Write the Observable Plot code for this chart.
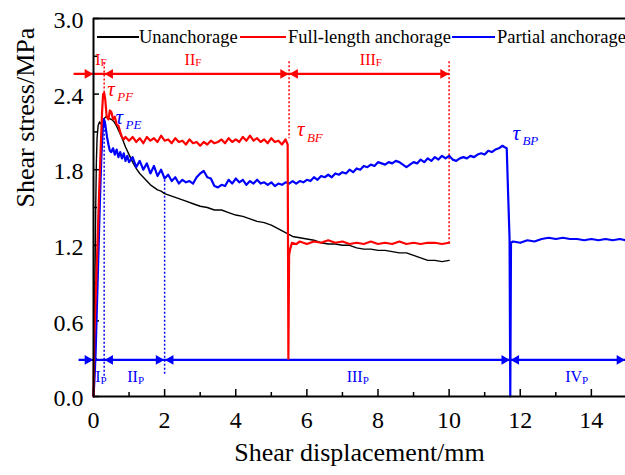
<!DOCTYPE html>
<html><head><meta charset="utf-8">
<script src="https://cdn.jsdelivr.net/npm/d3@7"></script>
<script src="https://cdn.jsdelivr.net/npm/@observablehq/plot@0.6"></script>
<style>
body{margin:0;background:#fff;}
#wrap{position:relative;width:625px;height:475px;font-family:"Liberation Serif","Times New Roman",serif;}
#legend{position:absolute;left:0;top:26px;width:625px;height:22px;font-size:18.5px;line-height:22px;color:#000;white-space:nowrap;}
#legend .sw{position:absolute;top:10px;height:2px;}
#legend .lt{position:absolute;top:0;}
</style></head><body><div id="wrap"><div id="legend"></div></div>
<script>
// Axis ticks
const xMajor = [0, 2, 4, 6, 8, 10, 12, 14];
const xMinor = [1, 3, 5, 7, 9, 11, 13];
const yMajor = [0, 0.6, 1.2, 1.8, 2.4, 3.0];
const yMinor = [0.3, 0.9, 1.5, 2.1, 2.7];

const seriesNames = ["Unanchorage", "Full-length anchorage", "Partial anchorage"];
const seriesColors = ["#000000", "#ff0000", "#0000ff"];

// Unanchorage (black)
const unanchorage = [[0,0],[0.02,0.35],[0.04,0.9],[0.06,1.45],[0.08,1.85],[0.1,2.05],[0.13,2.15],[0.17,2.18],[0.22,2.16],[0.28,2.2],[0.35,2.22],[0.42,2.21],[0.5,2.2],[0.58,2.18],[0.66,2.14],[0.74,2.09],[0.82,2.04],[0.9,1.98],[1.0,1.92],[1.1,1.86],[1.2,1.81],[1.3,1.77],[1.4,1.74],[1.5,1.71],[1.6,1.68],[1.7,1.66],[1.8,1.64],[1.9,1.63],[2.0,1.61],[2.2,1.59],[2.4,1.57],[2.6,1.55],[2.8,1.53],[3.0,1.51],[3.2,1.5],[3.4,1.48],[3.6,1.48],[3.8,1.46],[4.0,1.44],[4.2,1.43],[4.4,1.41],[4.6,1.39],[4.8,1.38],[5.0,1.36],[5.2,1.33],[5.4,1.3],[5.6,1.27],[5.8,1.26],[6.0,1.25],[6.2,1.24],[6.4,1.22],[6.6,1.21],[6.8,1.21],[7.0,1.2],[7.2,1.2],[7.4,1.18],[7.6,1.17],[7.8,1.17],[8.0,1.16],[8.2,1.16],[8.4,1.15],[8.6,1.14],[8.8,1.14],[9.0,1.12],[9.2,1.1],[9.4,1.08],[9.6,1.08],[9.8,1.07],[10.0,1.08]];

// Full-length anchorage (red)
const fullLength = [[0,0],[0.02,0.45],[0.05,0.7],[0.1,1.1],[0.15,1.55],[0.2,1.95],[0.24,2.25],[0.27,2.4],[0.3,2.41],[0.33,2.36],[0.37,2.22],[0.42,2.2],[0.46,2.27],[0.5,2.26],[0.55,2.2],[0.6,2.22],[0.65,2.16],[0.7,2.15],[0.75,2.1],[0.8,2.06],[0.85,2.04],[0.9,2.06],[1.0,2.03],[1.1,2.06],[1.2,2.02],[1.3,2.05],[1.4,2.01],[1.5,2.06],[1.6,2.03],[1.7,2.05],[1.8,2.02],[1.9,2.07],[2.0,2.03],[2.1,2.04],[2.2,2.01],[2.3,2.05],[2.4,2.02],[2.5,2.03],[2.6,2.0],[2.7,2.04],[2.8,2.01],[2.9,2.02],[3.0,1.99],[3.1,2.02],[3.2,2.0],[3.3,2.03],[3.4,2.01],[3.5,2.02],[3.6,2.04],[3.7,2.01],[3.8,2.05],[3.9,2.02],[4.0,2.04],[4.1,2.02],[4.2,2.06],[4.3,2.03],[4.4,2.07],[4.5,2.03],[4.6,2.05],[4.7,2.02],[4.8,2.04],[4.9,2.01],[5.0,2.05],[5.1,2.02],[5.2,2.03],[5.3,2.0],[5.4,2.04],[5.46,2.0],[5.47,1.2],[5.48,0.3],[5.5,1.12],[5.53,1.17],[5.58,1.22],[5.7,1.21],[5.8,1.23],[6.0,1.21],[6.2,1.23],[6.4,1.22],[6.6,1.24],[6.8,1.22],[7.0,1.23],[7.2,1.21],[7.4,1.22],[7.6,1.21],[7.8,1.23],[8.0,1.21],[8.2,1.22],[8.4,1.21],[8.6,1.23],[8.8,1.21],[9.0,1.22],[9.2,1.21],[9.4,1.22],[9.6,1.22],[9.8,1.21],[10.0,1.22]];

// Partial anchorage (blue)
const partial = [[0,0],[0.03,0.15],[0.06,0.35],[0.1,0.75],[0.14,1.15],[0.18,1.55],[0.22,1.9],[0.26,2.12],[0.29,2.2],[0.32,2.18],[0.35,2.12],[0.38,2.06],[0.42,2.0],[0.46,1.95],[0.5,1.94],[0.55,1.97],[0.6,1.92],[0.65,1.96],[0.7,1.9],[0.75,1.94],[0.8,1.89],[0.85,1.93],[0.9,1.87],[0.95,1.91],[1.0,1.86],[1.1,1.9],[1.2,1.82],[1.3,1.87],[1.4,1.8],[1.5,1.85],[1.6,1.77],[1.7,1.83],[1.8,1.75],[1.9,1.8],[2.0,1.73],[2.1,1.76],[2.2,1.71],[2.3,1.74],[2.4,1.69],[2.5,1.72],[2.6,1.7],[2.7,1.71],[2.8,1.69],[2.9,1.74],[3.0,1.77],[3.1,1.79],[3.2,1.74],[3.3,1.73],[3.4,1.67],[3.5,1.66],[3.6,1.68],[3.7,1.67],[3.8,1.72],[3.9,1.69],[4.0,1.73],[4.1,1.7],[4.2,1.72],[4.3,1.68],[4.4,1.71],[4.5,1.69],[4.6,1.72],[4.7,1.69],[4.8,1.7],[4.9,1.68],[5.0,1.7],[5.1,1.67],[5.2,1.69],[5.3,1.68],[5.4,1.7],[5.5,1.69],[5.6,1.71],[5.7,1.69],[5.8,1.71],[5.9,1.7],[6.0,1.72],[6.1,1.71],[6.2,1.74],[6.3,1.72],[6.4,1.75],[6.5,1.74],[6.6,1.76],[6.7,1.74],[6.8,1.77],[6.9,1.76],[7.0,1.78],[7.1,1.77],[7.2,1.8],[7.3,1.78],[7.4,1.81],[7.5,1.8],[7.6,1.83],[7.7,1.82],[7.8,1.84],[7.9,1.83],[8.0,1.86],[8.1,1.85],[8.2,1.84],[8.3,1.86],[8.4,1.85],[8.5,1.87],[8.6,1.86],[8.7,1.84],[8.8,1.82],[8.9,1.84],[9.0,1.86],[9.1,1.85],[9.2,1.88],[9.3,1.86],[9.4,1.89],[9.5,1.87],[9.6,1.9],[9.7,1.88],[9.8,1.91],[9.9,1.89],[10.0,1.91],[10.1,1.88],[10.2,1.87],[10.3,1.89],[10.4,1.9],[10.5,1.89],[10.6,1.91],[10.7,1.9],[10.8,1.92],[10.9,1.93],[11.0,1.92],[11.1,1.95],[11.2,1.94],[11.3,1.96],[11.4,1.97],[11.5,1.99],[11.55,1.98],[11.62,1.97],[11.66,1.6],[11.7,1.25],[11.72,0.0],[11.74,1.22],[11.8,1.23],[12.0,1.22],[12.2,1.24],[12.4,1.23],[12.6,1.25],[12.8,1.26],[13.0,1.25],[13.2,1.26],[13.4,1.25],[13.6,1.25],[13.8,1.24],[14.0,1.25],[14.2,1.24],[14.4,1.25],[14.6,1.24],[14.8,1.25],[14.96,1.24]];

// Stage annotations
const redArrowY = 2.56;
const blueArrowY = 0.29;
const redArrowSpan = [-0.56, 10];
const blueArrowSpan = [-0.42, 14.96];
const redHeads = [{x: 0, dir: "r"}, {x: 0.3, dir: "l"}, {x: 5.5, dir: "r"}, {x: 5.5, dir: "l"}, {x: 10, dir: "r"}];
const blueHeads = [{x: 0, dir: "r"}, {x: 0.3, dir: "l"}, {x: 2, dir: "r"}, {x: 2, dir: "l"}, {x: 11.72, dir: "r"}, {x: 11.72, dir: "l"}, {x: 14.96, dir: "r"}];
const redDotted = [{x: 0.3, y1: 2.65, y2: 2.4}, {x: 5.5, y1: 2.66, y2: 2.05}, {x: 10, y1: 2.66, y2: 1.22}];
const blueDotted = [{x: 0.3, y1: 2.18, y2: 0.15}, {x: 2, y1: 1.72, y2: 0.17}];
const redStageLabels = [{x: 0.2, main: "I"}, {x: 2.86, main: "II"}, {x: 7.94, main: "III"}];
const redStageY = 2.675, redStageSub = "F";
const blueStageLabels = [{x: 0.2, main: "I"}, {x: 1.25, main: "II"}, {x: 7.57, main: "III"}, {x: 13.74, main: "IV"}];
const blueStageY = 0.155, blueStageSub = "P";
const tauLabels = [
  {x: 0.39, y: 2.44, sub: "PF", color: "#ff0000"},
  {x: 0.62, y: 2.22, sub: "PE", color: "#0000ff"},
  {x: 5.72, y: 2.12, sub: "BF", color: "#ff0000"},
  {x: 11.78, y: 2.09, sub: "BP", color: "#0000ff"}
];

const toObj = arr => arr.map(([x, y]) => ({x, y}));
const serif = "'Liberation Serif', 'Times New Roman', serif";

function headMarks(heads, y, color) {
  return [
    Plot.dot(heads.filter(d => d.dir === "r"), {x: "x", y: () => y, symbol: "triangle", r: 3.6, rotate: 90, fill: color, stroke: "none", dx: -6}),
    Plot.dot(heads.filter(d => d.dir === "l"), {x: "x", y: () => y, symbol: "triangle", r: 3.6, rotate: -90, fill: color, stroke: "none", dx: 6})
  ];
}
function stageMarks(labels, y, sub, color) {
  return [
    Plot.text(labels, {x: "x", y: () => y, text: "main", textAnchor: "end", fill: color, fontSize: 16, fontFamily: serif}),
    Plot.text(labels, {x: "x", y: () => y, text: () => sub, textAnchor: "start", fill: color, fontSize: 11, dy: 3, fontFamily: serif})
  ];
}
function tauMarks(color) {
  const data = tauLabels.filter(d => d.color === color);
  return [
    Plot.text(data, {x: "x", y: "y", text: () => "τ", textAnchor: "start", fill: color, fontSize: 21, fontStyle: "italic", fontFamily: serif}),
    Plot.text(data, {x: "x", y: "y", text: "sub", textAnchor: "start", fill: color, fontSize: 13, fontStyle: "italic", dx: 10, dy: 8, fontFamily: serif})
  ];
}

const plot = Plot.plot({
  width: 625, height: 475,
  marginLeft: 93, marginRight: 0, marginTop: 18, marginBottom: 79,
  x: {domain: [0, 14.96]},
  y: {domain: [0, 3]},
  style: {fontFamily: serif, fontSize: "24px", color: "#000", background: "#fff", overflow: "visible"},
  marks: [
    Plot.axisX({ticks: xMajor, tickSize: 0, tickPadding: 14, tickFormat: d3.format("d"), label: null, fontSize: 24}),
    Plot.axisY({ticks: yMajor, tickSize: 0, tickPadding: 10, tickFormat: d3.format(".1f"), label: null, fontSize: 24, dy: 2}),
    Plot.ruleX(xMajor, {insetTop: 371, stroke: "#000", strokeWidth: 1.5}),
    Plot.ruleX(xMinor, {insetTop: 374, stroke: "#000", strokeWidth: 1.5}),
    Plot.ruleY(yMajor, {insetRight: 526, stroke: "#000", strokeWidth: 1.5}),
    Plot.ruleY(yMinor, {insetRight: 528, stroke: "#000", strokeWidth: 1.5}),
    Plot.text(["Shear displacement/mm"], {frameAnchor: "bottom", dy: 64, fontSize: 26, fontFamily: serif, fill: "#000"}),
    Plot.text(["Shear stress/MPa"], {frameAnchor: "left", dx: -68, rotate: -90, fontSize: 26, fontFamily: serif, fill: "#000"}),
    // annotations
    Plot.link(redDotted, {x1: "x", x2: "x", y1: "y1", y2: "y2", stroke: "#ff0000", strokeWidth: 1.5, strokeDasharray: "2,2"}),
    Plot.link(blueDotted, {x1: "x", x2: "x", y1: "y1", y2: "y2", stroke: "#0000ff", strokeWidth: 1.5, strokeDasharray: "2,2"}),
    Plot.link([redArrowSpan], {x1: d => d[0], x2: d => d[1], y1: () => redArrowY, y2: () => redArrowY, stroke: "#ff0000", strokeWidth: 2.2}),
    Plot.link([blueArrowSpan], {x1: d => d[0], x2: d => d[1], y1: () => blueArrowY, y2: () => blueArrowY, stroke: "#0000ff", strokeWidth: 2.2}),
    ...headMarks(redHeads, redArrowY, "#ff0000"),
    ...headMarks(blueHeads, blueArrowY, "#0000ff"),
    ...stageMarks(redStageLabels, redStageY, redStageSub, "#ff0000"),
    ...stageMarks(blueStageLabels, blueStageY, blueStageSub, "#0000ff"),
    // curves
    Plot.line(toObj(unanchorage), {x: "x", y: "y", stroke: seriesColors[0], strokeWidth: 1.4}),
    Plot.line(toObj(partial), {x: "x", y: "y", stroke: seriesColors[2], strokeWidth: 2.2}),
    Plot.line(toObj(fullLength), {x: "x", y: "y", stroke: seriesColors[1], strokeWidth: 2.2}),
    ...tauMarks("#ff0000"),
    ...tauMarks("#0000ff"),
    // frame
    Plot.ruleX([0], {stroke: "#000", strokeWidth: 2}),
    Plot.ruleY([0, 3], {stroke: "#000", strokeWidth: 2})
  ]
});
const wrap = document.getElementById("wrap");
wrap.insertBefore(plot, wrap.firstChild);

// Legend (inside the frame, along the top)
const legendSwatch = [[97, 42], [240, 46], [452, 43]];
const legendTextLeft = [139, 288, 497];
const legend = document.getElementById("legend");
seriesNames.forEach((name, i) => {
  const sw = document.createElement("span");
  sw.className = "sw";
  sw.style.left = legendSwatch[i][0] + "px";
  sw.style.width = legendSwatch[i][1] + "px";
  sw.style.background = seriesColors[i];
  legend.appendChild(sw);
  const t = document.createElement("span");
  t.className = "lt";
  t.style.left = legendTextLeft[i] + "px";
  t.textContent = name;
  legend.appendChild(t);
});
</script></body></html>
